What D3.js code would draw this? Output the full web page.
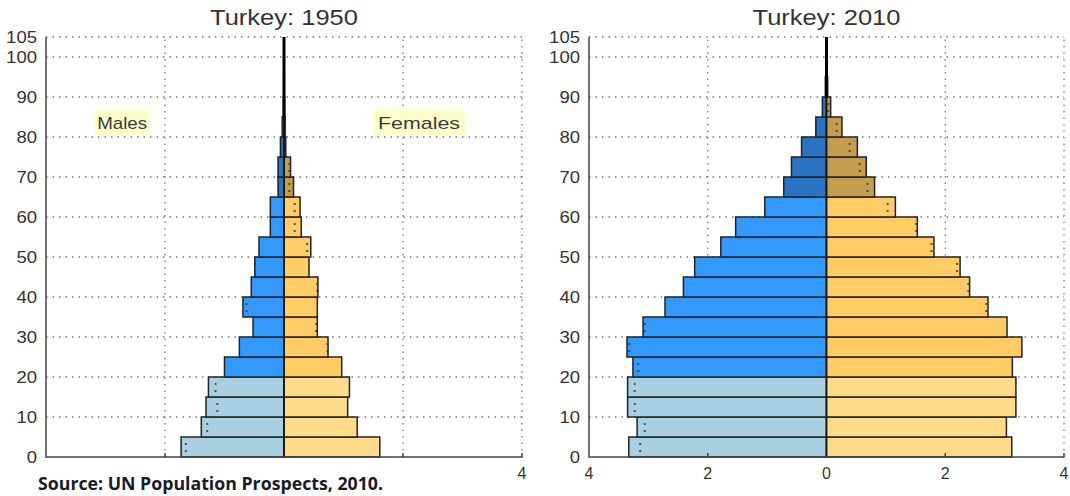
<!DOCTYPE html>
<html>
<head>
<meta charset="utf-8">
<script src="https://cdn.jsdelivr.net/npm/d3@7"></script>
<style>
  body { margin: 0; background: #fff; }
  svg { display: block; font-family: "Liberation Sans", Arial, sans-serif; }
</style>
</head>
<body>
<svg class="chart" width="1070" height="496"></svg>
<script>
const width = 1070;
const height = 496;

// age groups 0-4 ... 100+
const ageStarts = d3.range(0, 105, 5);
const yTicks = [0, 10, 20, 30, 40, 50, 60, 70, 80, 90, 100, 105];
const xTicks = [-4, -2, 0, 2, 4];

// Turkey 1950, % of population
const males1950 = [1.73, 1.39, 1.31, 1.27, 1.00, 0.75, 0.52, 0.69, 0.55, 0.49, 0.42,
  0.23, 0.23, 0.10, 0.10, 0.06, 0.03, 0.01, 0.005, 0.002, 0];
const females1950 = [1.61, 1.23, 1.07, 1.10, 0.97, 0.74, 0.56, 0.56, 0.57, 0.42, 0.45,
  0.29, 0.27, 0.16, 0.11, 0.03, 0.02, 0.01, 0.005, 0.002, 0];
const maleMarks1950 = [1.65, 1.29, 1.12, 1.15, null, null, null, 0.63, null, 0.49, null,
  null, null, null, null, null, null, null, null, null, null];
const femaleMarks1950 = [null, null, null, null, null, 0.73, 0.54, null, 0.56, null, 0.39,
  0.18, 0.18, 0.09, 0.09, null, null, null, null, null, null];

// Turkey 2010, % of population
const males2010 = [3.33, 3.19, 3.35, 3.35, 3.26, 3.36, 3.09, 2.72, 2.41, 2.22, 1.78,
  1.53, 1.04, 0.72, 0.59, 0.42, 0.18, 0.07, 0.02, 0.005, 0];
const females2010 = [3.12, 3.03, 3.19, 3.19, 3.13, 3.29, 3.04, 2.72, 2.41, 2.25, 1.81,
  1.53, 1.16, 0.81, 0.67, 0.52, 0.26, 0.07, 0.02, 0.005, 0];
const maleMarks2010 = [3.14, 3.06, 3.23, 3.23, 3.17, 3.32, 3.06, null, null, null, null,
  null, null, null, null, null, null, null, null, null, null];
const femaleMarks2010 = [null, null, null, null, null, null, null, 2.69, 2.39, 2.20, 1.77,
  1.51, 1.03, 0.69, 0.56, 0.39, 0.17, 0.03, null, null, null];

const colors = {
  male: ["#a9cfe2", "#3399ff", "#2a72c2"],
  female: ["#ffdb8a", "#ffcc66", "#c59d4f"]
};
function band(age) {
  return age < 20 ? 0 : age < 65 ? 1 : 2;
}

const svg = d3.select(".chart");
svg.append("rect").attr("width", width).attr("height", height).attr("fill", "#fff");

const y = d3.scaleLinear().domain([0, 105]).range([457, 37]);

function drawPyramid(cfg) {
  const x = d3.scaleLinear().domain([-4, 4]).range(cfg.range);
  const g = svg.append("g");

  // dotted grid
  g.selectAll(".hgrid")
    .data(yTicks.filter(d => d > 0))
    .enter()
    .append("line")
    .attr("x1", x(-4)).attr("x2", x(4))
    .attr("y1", d => y(d)).attr("y2", d => y(d))
    .attr("stroke", "#777").attr("stroke-width", 1.3)
    .attr("stroke-dasharray", "1.5,5");
  g.selectAll(".vgrid")
    .data([-2, 2, 4])
    .enter()
    .append("line")
    .attr("x1", d => x(d)).attr("x2", d => x(d))
    .attr("y1", y(0)).attr("y2", y(105))
    .attr("stroke", "#777").attr("stroke-width", 1.3)
    .attr("stroke-dasharray", "1.5,5");

  const bh = y(0) - y(5);

  // male bars
  g.selectAll(".male")
    .data(ageStarts)
    .enter()
    .append("rect")
    .attr("x", (d, i) => x(-cfg.males[i]))
    .attr("y", d => y(d + 5))
    .attr("width", (d, i) => x(0) - x(-cfg.males[i]))
    .attr("height", bh)
    .attr("fill", d => colors.male[band(d)])
    .attr("stroke", "#222").attr("stroke-width", 1.5);

  // female bars
  g.selectAll(".female")
    .data(ageStarts)
    .enter()
    .append("rect")
    .attr("x", x(0))
    .attr("y", d => y(d + 5))
    .attr("width", (d, i) => x(cfg.females[i]) - x(0))
    .attr("height", bh)
    .attr("fill", d => colors.female[band(d)])
    .attr("stroke", "#222").attr("stroke-width", 1.5);

  // small dotted markers inside bars
  const marks = [];
  ageStarts.forEach((a, i) => {
    if (cfg.maleMarks[i] != null) marks.push({ age: a, v: -cfg.maleMarks[i] });
    if (cfg.femaleMarks[i] != null) marks.push({ age: a, v: cfg.femaleMarks[i] });
  });
  marks.forEach(m => {
    [0.35, 0.7].forEach(f => {
      g.append("rect")
        .attr("x", x(m.v) - 1)
        .attr("y", y(m.age + 5) + bh * f - 1)
        .attr("width", 2).attr("height", 2)
        .attr("fill", "#333").attr("opacity", 0.8);
    });
  });

  // centre line, thick where the bars become too thin to see
  g.append("line")
    .attr("x1", x(0)).attr("x2", x(0))
    .attr("y1", y(0)).attr("y2", y(105))
    .attr("stroke", "#111").attr("stroke-width", 1.5);
  const topIdx = ageStarts.findIndex((a, i) => cfg.males[i] < 0.03 && cfg.females[i] < 0.03);
  g.append("line")
    .attr("x1", x(0)).attr("x2", x(0))
    .attr("y1", y(ageStarts[topIdx])).attr("y2", y(105))
    .attr("stroke", "#000").attr("stroke-width", 3);

  // axes
  g.append("path")
    .attr("d", `M${x(-4)},${y(105)}V${y(0)}H${x(4)}V${y(0) - 4}`)
    .attr("fill", "none").attr("stroke", "#444").attr("stroke-width", 1.5);
  g.selectAll(".xtick")
    .data([-2, 2])
    .enter()
    .append("line")
    .attr("x1", d => x(d)).attr("x2", d => x(d))
    .attr("y1", y(0)).attr("y2", y(0) - 4)
    .attr("stroke", "#444").attr("stroke-width", 1.5);

  g.selectAll(".ylab")
    .data(yTicks)
    .enter()
    .append("text")
    .attr("x", x(-4) - 9)
    .attr("y", d => y(d))
    .attr("dy", "0.36em")
    .attr("text-anchor", "end")
    .attr("font-size", 16)
    .attr("fill", "#333")
    .attr("textLength", d => String(d).length * 10.3)
    .attr("lengthAdjust", "spacingAndGlyphs")
    .text(d => d);

  g.selectAll(".xlab")
    .data(cfg.xLabels)
    .enter()
    .append("text")
    .attr("x", d => x(d))
    .attr("y", 473)
    .attr("dy", "0.36em")
    .attr("text-anchor", "middle")
    .attr("font-size", 16)
    .attr("fill", "#333")
    .text(d => Math.abs(d));

  g.append("text")
    .attr("x", x(0) - 74)
    .attr("y", 25)
    .attr("font-size", 22)
    .attr("fill", "#333")
    .attr("textLength", 148)
    .attr("lengthAdjust", "spacingAndGlyphs")
    .text(cfg.title);

  return x;
}

const xL = drawPyramid({
  title: "Turkey: 1950",
  range: [46, 522],
  males: males1950, females: females1950,
  maleMarks: maleMarks1950, femaleMarks: femaleMarks1950,
  xLabels: [4]
});

drawPyramid({
  title: "Turkey: 2010",
  range: [589, 1064],
  males: males2010, females: females2010,
  maleMarks: maleMarks2010, femaleMarks: femaleMarks2010,
  xLabels: xTicks
});

// legend boxes
[{ label: "Males", v: -2.72, w: 55, tw: 50 }, { label: "Females", v: 2.27, w: 92, tw: 82 }].forEach(l => {
  const cx = xL(l.v);
  svg.append("rect")
    .attr("x", cx - l.w / 2).attr("y", y(86.8))
    .attr("width", l.w).attr("height", 26)
    .attr("fill", "#ffffcc");
  svg.append("text")
    .attr("x", cx - l.tw / 2)
    .attr("y", y(83.6))
    .attr("dy", "0.36em")
    .attr("font-size", 17)
    .attr("fill", "#3a3a3a")
    .attr("textLength", l.tw)
    .attr("lengthAdjust", "spacingAndGlyphs")
    .text(l.label);
});

svg.append("text")
  .attr("x", 38)
  .attr("y", 490)
  .attr("font-family", "'Open Sans', sans-serif")
  .attr("font-weight", "bold")
  .attr("font-size", 17)
  .attr("fill", "#1a1a2a")
  .attr("textLength", 345)
  .attr("lengthAdjust", "spacingAndGlyphs")
  .text("Source: UN Population Prospects, 2010.");
</script>
</body>
</html>
